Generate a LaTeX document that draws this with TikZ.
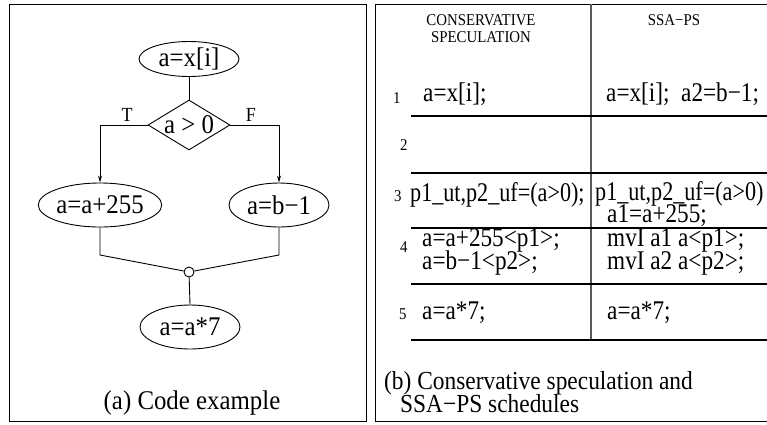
\documentclass[tikz,border=0pt]{standalone}
\usepackage{fontspec}
\usetikzlibrary{shapes.geometric,arrows.meta}
\newfontfamily\lfont{Liberation Serif}[FakeStretch=0.92]
\newfontfamily\rfont{Liberation Serif}[FakeStretch=0.86]
\newfontfamily\nfont{Liberation Serif}[FakeStretch=0.82]
\newfontfamily\sfontx{Liberation Serif}[FakeStretch=0.9]
\tikzset{
  lbig/.style={font=\lfont\fontsize{27}{21}\selectfont, inner sep=0pt},
  big/.style={font=\rfont\fontsize{27}{21}\selectfont, inner sep=0pt},
  narrow/.style={font=\nfont\fontsize{27}{21}\selectfont, inner sep=0pt},
  capt/.style={font=\sfontx\fontsize{26}{21}\selectfont, inner sep=0pt},
  small/.style={font=\sfontx\fontsize{16.5}{17}\selectfont, inner sep=0pt},
  tf/.style={font=\sfontx\fontsize{20}{20}\selectfont, inner sep=0pt},
  oval/.style={ellipse, draw, line width=0.9pt, minimum width=100pt, minimum height=44pt, inner sep=0pt, lbig},
  cond/.style={diamond, draw, line width=0.9pt, minimum width=82pt, minimum height=50pt, inner sep=0pt},
  conn/.style={line width=0.9pt},
  arr/.style={line width=0.9pt, -{Stealth[length=7pt,width=4pt]}},
  frame/.style={line width=1pt},
  rowline/.style={line width=1.2pt},
  midline/.style={line width=2.4pt, black!65},
}
\begin{document}
\begin{tikzpicture}[x=1pt,y=-1pt]
\useasboundingbox (0,0) rectangle (767,424);
\fill[white] (0,0) rectangle (767,424);
% ---------- left panel ----------
\draw[frame] (9,4) rectangle (366,421);
\node[oval, minimum height=35pt] (top) at (189,59) {a=x[i]};
\node[cond, label={[lbig]center:a > 0}] (test) at (189,125) {};
\node[oval] (lefte) at (100,205) {a=a+255};
\node[oval] (righte) at (279,205) {a=b−1};
\node[circle, draw, line width=0.9pt, minimum size=10pt, inner sep=0pt, fill=white] (join) at (189,272) {};
\node[oval] (bot) at (190,327) {a=a*7};
\node[tf, anchor=base] (tl) at (127,121) {T};
\node[tf, anchor=base] (fl) at (251,121) {F};
\coordinate (lk) at (100,255);
\coordinate (rk) at (279,255);
\draw[conn] (top.south) -- (test.north);
\draw[arr] (test.west) -| (lefte.north);
\draw[arr] (test.east) -| (righte.north);
\draw[conn] (lefte.south) -- (lk) -- (join);
\draw[conn] (righte.south) -- (rk) -- (join);
\draw[conn] (join) -- (bot.north);
\node[lbig, anchor=base] (capa) at (192,409) {(a) Code example};
% ---------- right panel ----------
\draw[frame] (790,4) -- (375,4) -- (375,421) -- (790,421);
\draw[midline] (591,4) -- (591,340);
\foreach \y in {116,173,228,284,340} \draw[rowline] (411,\y) -- (790,\y);
\node[small, anchor=base] (h1a) at (481,25) {CONSERVATIVE};
\node[small, anchor=base] (h1b) at (481,42) {SPECULATION};
\node[small, anchor=base] (h2) at (674,25) {SSA−PS};
% row numbers
\node[small, anchor=base west] (n1) at (393,103) {1};
\node[small, anchor=base west] (n2) at (400,150) {2};
\node[small, anchor=base west] (n3) at (394,201) {3};
\node[small, anchor=base west] (n4) at (400,252) {4};
\node[small, anchor=base west] (n5) at (399,319) {5};
% conservative column
\node[big, anchor=base west] (c1) at (423,101) {a=x[i];};
\node[narrow, anchor=base west] (c3) at (410,201) {p1\_ut,p2\_uf=(a>0);};
\node[big, anchor=base west] (c4a) at (422,246) {a=a+255<p1>;};
\node[big, anchor=base west] (c4b) at (422,269) {a=b−1<p2>;};
\node[big, anchor=base west] (c5) at (422,319) {a=a*7;};
% ssa-ps column
\node[big, anchor=base west] (s1) at (606,101) {a=x[i];\ \ a2=b−1;};
\node[narrow, anchor=base west] (s3a) at (595,200) {p1\_ut,p2\_uf=(a>0)};
\node[big, anchor=base west] (s3b) at (607,222) {a1=a+255;};
\node[big, anchor=base west] (s4a) at (607,246) {mvI a1 a<p1>;};
\node[big, anchor=base west] (s4b) at (607,269) {mvI a2 a<p2>;};
\node[big, anchor=base west] (s5) at (607,319) {a=a*7;};
% caption
\node[capt, anchor=base west] (capb1) at (384,389) {(b) Conservative speculation and};
\node[capt, anchor=base west] (capb2) at (400,412) {SSA−PS schedules};
\end{tikzpicture}
\end{document}
